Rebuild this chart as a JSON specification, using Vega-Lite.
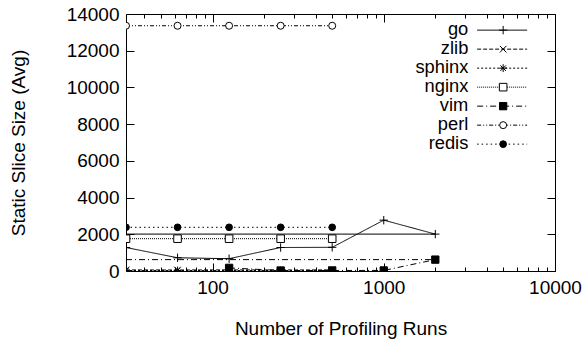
{
  "$schema": "https://vega.github.io/schema/vega-lite/v6.json",
  "width": 429,
  "height": 257,
  "autosize": "none",
  "padding": {"left": 126, "top": 14, "right": 29, "bottom": 68},
  "background": "white",
  "config": {
    "view": {"stroke": "black", "strokeWidth": 1},
    "font": "Liberation Sans",
    "axis": {
      "labelFont": "Liberation Sans", "titleFont": "Liberation Sans",
      "labelFontSize": 19, "titleFontSize": 19, "titleFontWeight": "normal",
      "labelColor": "black", "titleColor": "black", "tickColor": "black",
      "domain": false, "grid": false
    },
    "legend": {"labelFont": "Liberation Sans", "labelFontSize": 18.3, "labelColor": "black"}
  },
  "data": {"values": [
    {"s": "go", "x": 31.25, "y": 1280, "seg": "m", "ord": 1},
    {"s": "go", "x": 62.5, "y": 720, "seg": "m", "ord": 1},
    {"s": "go", "x": 125, "y": 670, "seg": "m", "ord": 1},
    {"s": "go", "x": 250, "y": 1280, "seg": "m", "ord": 1},
    {"s": "go", "x": 500, "y": 1290, "seg": "m", "ord": 1},
    {"s": "go", "x": 1000, "y": 2770, "seg": "m", "ord": 1},
    {"s": "go", "x": 2000, "y": 2010, "seg": "m", "ord": 1},
    {"s": "go", "x": 31.25, "y": 2010, "seg": "r", "ord": 1},
    {"s": "go", "x": 2000, "y": 2010, "seg": "r", "ord": 1},
    {"s": "zlib", "x": 31.25, "y": 60, "seg": "m", "ord": 2},
    {"s": "zlib", "x": 62.5, "y": 55, "seg": "m", "ord": 2},
    {"s": "zlib", "x": 125, "y": 60, "seg": "m", "ord": 2},
    {"s": "zlib", "x": 250, "y": 55, "seg": "m", "ord": 2},
    {"s": "zlib", "x": 500, "y": 60, "seg": "m", "ord": 2},
    {"s": "sphinx", "x": 31.25, "y": 25, "seg": "m", "ord": 3},
    {"s": "sphinx", "x": 62.5, "y": 25, "seg": "m", "ord": 3},
    {"s": "sphinx", "x": 125, "y": 25, "seg": "m", "ord": 3},
    {"s": "sphinx", "x": 250, "y": 25, "seg": "m", "ord": 3},
    {"s": "sphinx", "x": 500, "y": 25, "seg": "m", "ord": 3},
    {"s": "nginx", "x": 31.25, "y": 1760, "seg": "m", "ord": 4},
    {"s": "nginx", "x": 62.5, "y": 1760, "seg": "m", "ord": 4},
    {"s": "nginx", "x": 125, "y": 1760, "seg": "m", "ord": 4},
    {"s": "nginx", "x": 250, "y": 1760, "seg": "m", "ord": 4},
    {"s": "nginx", "x": 500, "y": 1760, "seg": "m", "ord": 4},
    {"s": "vim", "x": 125, "y": 170, "seg": "m", "ord": 5},
    {"s": "vim", "x": 250, "y": 25, "seg": "m", "ord": 5},
    {"s": "vim", "x": 500, "y": 30, "seg": "m", "ord": 5},
    {"s": "vim", "x": 1000, "y": 30, "seg": "m", "ord": 5},
    {"s": "vim", "x": 2000, "y": 620, "seg": "m", "ord": 5},
    {"s": "vim", "x": 31.25, "y": 620, "seg": "r", "ord": 5},
    {"s": "vim", "x": 2000, "y": 620, "seg": "r", "ord": 5},
    {"s": "perl", "x": 31.25, "y": 13360, "seg": "m", "ord": 6},
    {"s": "perl", "x": 62.5, "y": 13360, "seg": "m", "ord": 6},
    {"s": "perl", "x": 125, "y": 13360, "seg": "m", "ord": 6},
    {"s": "perl", "x": 250, "y": 13360, "seg": "m", "ord": 6},
    {"s": "perl", "x": 500, "y": 13360, "seg": "m", "ord": 6},
    {"s": "redis", "x": 31.25, "y": 2380, "seg": "m", "ord": 7},
    {"s": "redis", "x": 62.5, "y": 2380, "seg": "m", "ord": 7},
    {"s": "redis", "x": 125, "y": 2380, "seg": "m", "ord": 7},
    {"s": "redis", "x": 250, "y": 2380, "seg": "m", "ord": 7},
    {"s": "redis", "x": 500, "y": 2380, "seg": "m", "ord": 7}
  ]},
  "layer": [
    {
      "mark": {"type": "line", "color": "black", "strokeWidth": 1, "clip": true},
      "encoding": {
        "x": {"field": "x", "type": "quantitative",
          "scale": {"type": "log", "domain": [31.25, 10000], "nice": false},
          "axis": {"orient": "bottom", "title": "Number of Profiling Runs", "format": "d", "tickCount": 4,
            "tickSize": {"condition": {"test": "indexof([100,1000,10000], datum.value) >= 0", "value": -8}, "value": -4},
            "labelPadding": 15, "titlePadding": 22, "labelFlush": false}},
        "y": {"field": "y", "type": "quantitative",
          "scale": {"domain": [0, 14000], "nice": false},
          "axis": {"orient": "left", "title": "Static Slice Size (Avg)", "format": "d",
            "values": [0, 2000, 4000, 6000, 8000, 10000, 12000, 14000],
            "tickSize": -8, "labelPadding": 15, "titlePadding": 38}},
        "strokeDash": {"field": "s", "type": "nominal", "sort": {"field": "ord", "op": "min"},
          "scale": {"range": [[1, 0], [4, 2], [2, 2], [1, 1], [6, 3, 1, 3], [4, 2, 1, 2, 1, 2], [1.5, 3]]},
          "legend": {"orient": "none", "legendX": 280, "legendY": 7, "title": null,
            "symbolType": "M-5,0H5", "symbolSize": 100, "symbolStrokeColor": "black", "symbolStrokeWidth": 1,
            "symbolOffset": 87, "labelAlign": "right", "labelOffset": -43, "rowPadding": 0, "padding": 0}},
        "detail": {"field": "seg"}
      }
    },
    {
      "transform": [{"filter": "datum.seg == 'm'"}],
      "mark": {"type": "point", "strokeWidth": 1, "opacity": 1, "clip": true},
      "encoding": {
        "x": {"field": "x", "type": "quantitative",
          "axis": {"orient": "top", "title": null, "labels": false, "tickCount": 4,
            "tickSize": {"condition": {"test": "indexof([100,1000,10000], datum.value) >= 0", "value": -8}, "value": -4}}},
        "y": {"field": "y", "type": "quantitative",
          "axis": {"orient": "right", "title": null, "labels": false,
            "values": [0, 2000, 4000, 6000, 8000, 10000, 12000, 14000], "tickSize": -8}},
        "shape": {"field": "s", "type": "nominal",
          "scale": {"domain": ["go", "zlib", "sphinx", "nginx", "vim", "perl", "redis"],
            "range": ["M-1,0H1M0,-1V1", "M-0.8,-0.8L0.8,0.8M-0.8,0.8L0.8,-0.8", "M-1,0H1M0,-1V1M-0.7,-0.7L0.7,0.7M-0.7,0.7L0.7,-0.7", "square", "square", "circle", "circle"]},
          "legend": {"orient": "none", "legendX": 280, "legendY": 7, "title": null,
            "symbolStrokeColor": "black", "symbolStrokeWidth": 1,
            "symbolOffset": 88, "labelColor": "transparent", "rowPadding": 0, "padding": 0,
            "encode": {"symbols": {"update": {"stroke": {"value": "black"}, "strokeWidth": {"value": 1}, "strokeOpacity": {"value": 1}}}}}},
        "fill": {"field": "s", "type": "nominal",
          "scale": {"domain": ["go", "zlib", "sphinx", "nginx", "vim", "perl", "redis"],
            "range": ["black", "black", "black", "white", "black", "white", "black"]}},
        "stroke": {"field": "s", "type": "nominal",
          "scale": {"domain": ["go", "zlib", "sphinx", "nginx", "vim", "perl", "redis"],
            "range": ["black", "black", "black", "black", "black", "black", "black"]}},
        "size": {"field": "s", "type": "nominal",
          "scale": {"domain": ["go", "zlib", "sphinx", "nginx", "vim", "perl", "redis"],
            "range": [70, 45, 50, 56, 52, 36, 36]}}
      }
    }
  ],
  "resolve": {"axis": {"x": "independent", "y": "independent"}}
}
